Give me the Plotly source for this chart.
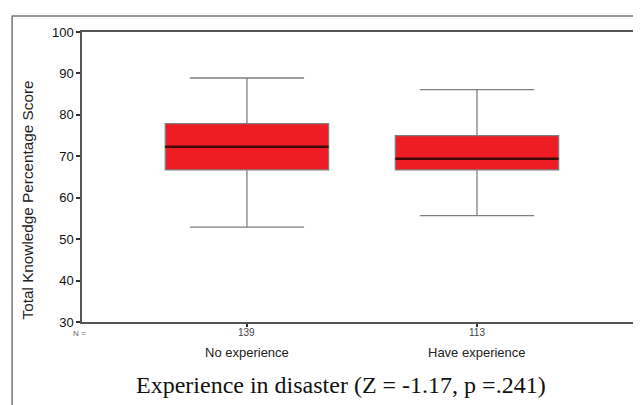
import plotly.graph_objects as go

categories = ["No experience", "Have experience"]
counts = [139, 113]
lower_whisker = [52.9, 55.7]
q1 = [66.7, 66.7]
median = [72.3, 69.4]
q3 = [77.9, 75.0]
upper_whisker = [88.9, 86.1]
y_ticks = [30, 40, 50, 60, 70, 80, 90, 100]
y_title = "Total Knowledge Percentage Score"
title_text = "Experience in disaster (Z = -1.17, p =.241)"

positions = list(range(len(categories)))
box_width = 0.71

fig = go.Figure()
fig.add_trace(go.Box(
    x=positions, q1=q1, median=median, q3=q3,
    lowerfence=lower_whisker, upperfence=upper_whisker,
    width=box_width, whiskerwidth=0.7,
    fillcolor="#ee1d24", line=dict(color="#808080", width=1.3),
    hoverinfo="skip", showlegend=False,
))
# darker median lines
for p, m in zip(positions, median):
    fig.add_trace(go.Scatter(
        x=[p - box_width / 2, p + box_width / 2], y=[m, m], mode="lines",
        line=dict(color="#420808", width=2.5), hoverinfo="skip", showlegend=False,
    ))

# page body has an 8px margin, so the figure is 8px smaller and margins shifted
fig.update_layout(
    width=633, height=397,
    margin=dict(l=74, r=0, t=24, b=83, autoexpand=False),
    paper_bgcolor="white", plot_bgcolor="white",
    font=dict(family="Arial, Liberation Sans, sans-serif", color="#222"),
    xaxis=dict(range=[-0.717, 1.713], tickvals=positions, ticktext=["", ""], automargin=False,
               showline=True, linecolor="#555", linewidth=1.5, mirror=True,
               ticks="outside", ticklen=3, tickcolor="#333", tickwidth=2,
               showgrid=False, zeroline=False),
    yaxis=dict(range=[30, 100], tickvals=y_ticks, showline=True, linecolor="#555", linewidth=1.5,
               automargin=False,
               ticks="outside", ticklen=4, tickcolor="#333", tickwidth=2,
               showgrid=False, zeroline=False,
               tickfont=dict(size=13, color="#111111")),
)

# outer frame
fig.add_shape(type="rect", xref="paper", yref="paper", x0=-0.125, x1=1.05, y0=-0.4, y1=1.055,
              line=dict(color="#777", width=1.5), layer="below")

fig.add_annotation(text=y_title, xref="paper", yref="paper", x=-0.098, y=0.42,
                   textangle=-90, showarrow=False, xanchor="center", yanchor="middle",
                   font=dict(size=15.3, color="#222222"))
fig.add_annotation(text="N =", xref="paper", yref="paper", x=-0.004, y=0, yshift=-11,
                   showarrow=False, xanchor="center", yanchor="middle",
                   font=dict(size=8, color="#666666"))
for p, n, c in zip(positions, counts, categories):
    fig.add_annotation(text=str(n), x=p, xref="x", yref="paper", y=0, yshift=-10,
                       showarrow=False, xanchor="center", yanchor="middle",
                       font=dict(size=10, color="#444444"))
    fig.add_annotation(text=c, x=p, xref="x", yref="paper", y=0, yshift=-30,
                       showarrow=False, xanchor="center", yanchor="middle",
                       font=dict(size=13, color="#222222"))
fig.add_annotation(text=title_text, xref="paper", yref="paper", x=0.463, y=0, yshift=-63,
                   showarrow=False, xanchor="center", yanchor="middle",
                   font=dict(size=24, family="Liberation Serif, Times New Roman, serif", color="#111111"))

fig.write_html("out.html")
